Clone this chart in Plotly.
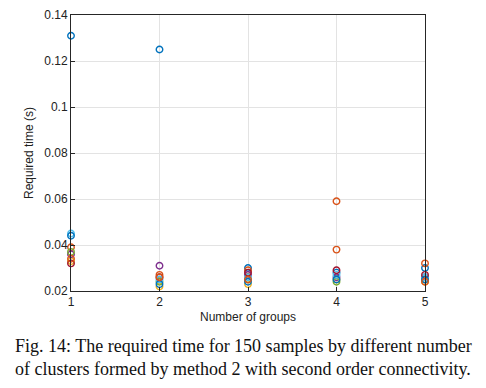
import plotly.graph_objects as go

groups = [1, 2, 3, 4, 5]
series_colors = ["#0072BD", "#D95319", "#EDB120", "#7E2F8E", "#77AC30",
                 "#4DBEEE", "#A2142F", "#0072BD", "#D95319"]
t1 = [0.131, 0.125, 0.030, 0.028, 0.030]
t2 = [0.039, 0.027, 0.029, 0.059, 0.032]
t3 = [0.033, 0.022, 0.023, 0.025, 0.024]
t4 = [0.036, 0.031, 0.027, 0.026, 0.026]
t5 = [0.037, 0.024, 0.025, 0.024, 0.025]
t6 = [0.045, 0.025, 0.026, 0.027, 0.026]
t7 = [0.032, 0.026, 0.028, 0.029, 0.027]
t8 = [0.044, 0.023, 0.024, 0.025, 0.025]
t9 = [0.034, 0.026, 0.025, 0.038, 0.024]
trials = [t1, t2, t3, t4, t5, t6, t7, t8, t9]

x_ticks = [1, 2, 3, 4, 5]
y_ticks = [0.02, 0.04, 0.06, 0.08, 0.1, 0.12, 0.14]
y_tick_text = ["0.02", "0.04", "0.06", "0.08", "0.1", "0.12", "0.14"]

fig = go.Figure()
for vals, col in zip(trials, series_colors):
    fig.add_trace(go.Scatter(
        x=groups, y=vals, mode="markers", cliponaxis=False, showlegend=False,
        marker=dict(symbol="circle-open", size=6.5, color=col, line=dict(width=1.4, color=col)),
    ))

axis_font = dict(family="Liberation Sans, Arial, sans-serif", size=12, color="#222222")
fig.update_layout(
    width=478, height=372,
    margin=dict(l=63, r=61, t=7, b=89),
    paper_bgcolor="white", plot_bgcolor="white",
    font=axis_font,
    xaxis=dict(range=[1, 5], tickvals=x_ticks, showgrid=True, gridcolor="#E3E3E3",
               zeroline=False, showline=True, linecolor="#262626", linewidth=1, mirror=True,
               ticks="inside", ticklen=4, tickcolor="#262626", automargin=False,
               title=dict(text="Number of groups", font=dict(size=12), standoff=4),
               tickfont=dict(size=12)),
    yaxis=dict(range=[0.02, 0.14], tickvals=y_ticks, ticktext=y_tick_text,
               showgrid=True, gridcolor="#E3E3E3",
               zeroline=False, showline=True, linecolor="#262626", linewidth=1, mirror=True,
               ticks="inside", ticklen=4, tickcolor="#262626", automargin=False,
               title=dict(text="Required time (s)", font=dict(size=12), standoff=8),
               tickfont=dict(size=12)),
)
fig.add_annotation(
    x=0.5, y=0, xref="paper", yref="paper", xanchor="center", yanchor="top",
    xshift=-5, yshift=-43, showarrow=False, align="left",
    text="Fig. 14: The required time for 150 samples by different number<br>of clusters formed by method 2 with second order connectivity.",
    font=dict(family="Liberation Serif, Times New Roman, serif", size=18, color="#111111"),
)
fig.write_html("out.html")
